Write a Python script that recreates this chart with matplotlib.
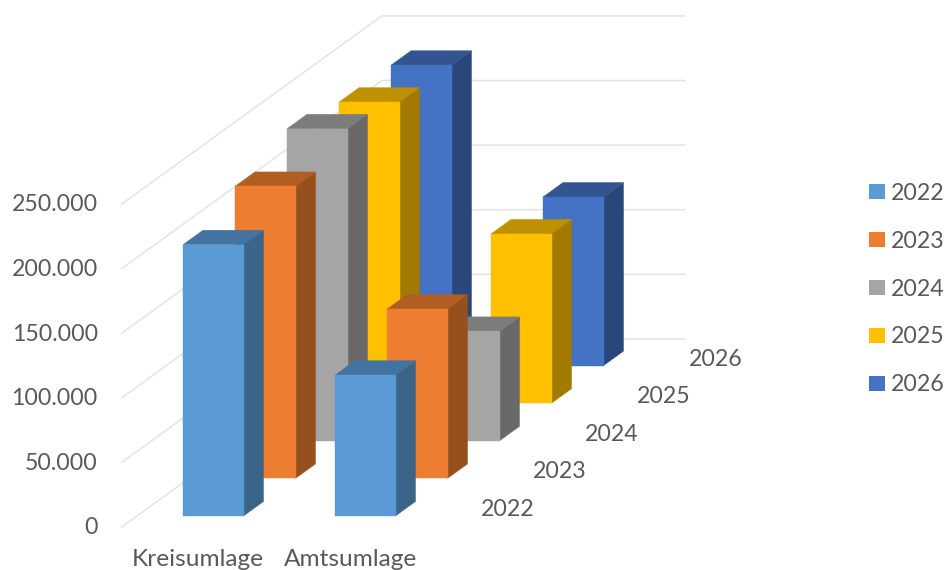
import matplotlib
matplotlib.use('Agg')
import matplotlib.pyplot as plt
from matplotlib.patches import Patch, Polygon

categories = ['Kreisumlage', 'Amtsumlage']
years = ['2022', '2023', '2024', '2025', '2026']
kreisumlage = [210000, 226000, 241500, 233000, 232500]
amtsumlage = [109000, 131000, 84700, 131000, 130500]
value_ticks = [0, 50000, 100000, 150000, 200000, 250000]
value_labels = ['0', '50.000', '100.000', '150.000', '200.000', '250.000']

front_colors = ['#5B9BD5', '#ED7D31', '#A5A5A5', '#FFC000', '#4472C4']
side_colors = ['#3A6488', '#96501D', '#696969', '#A37A00', '#2A477C']
top_colors = ['#4373A1', '#B25D22', '#7C7C7C', '#BF9000', '#325490']

GREY = '#595959'
FONT = 'Lato'
SIZE = 16.7

# one category is 152 px wide, 50.000 is 64.6 px high
PX_X = 1 / 152
PX_Y = 50000 / 64.6
# shift of the oblique view for one step along the depth axis
STEP_X = 52 * PX_X
STEP_Y = 37.6 * PX_Y
BAR_W = 60.5 * PX_X
BAR_D = 0.385
FLOOR_FRONT = -0.29
FLOOR_BACK = 4.71
FLOOR_LEFT = -0.303
WALL_RIGHT = 1.69


def project(cat, depth, value):
    return cat + depth * STEP_X, value + depth * STEP_Y


def draw_bar(ax, cat, depth, value, i, z):
    l, r = cat, cat + BAR_W
    d0, d1 = depth, depth + BAR_D
    front = [project(l, d0, 0), project(r, d0, 0), project(r, d0, value), project(l, d0, value)]
    side = [project(r, d0, 0), project(r, d1, 0), project(r, d1, value), project(r, d0, value)]
    top = [project(l, d0, value), project(r, d0, value), project(r, d1, value), project(l, d1, value)]
    for pts, col in [(side, side_colors[i]), (top, top_colors[i]), (front, front_colors[i])]:
        ax.add_patch(Polygon(pts, closed=True, facecolor=col, edgecolor=col, linewidth=0.3, zorder=z))


fig = plt.figure(figsize=(9.47, 5.70), dpi=100)
ax = fig.add_axes([0, 0, 1, 1])
ax.set_xlim(-183 * PX_X, (947 - 183) * PX_X)
ax.set_ylim(-(570 - 516) * PX_Y, 516 * PX_Y)
ax.axis('off')

# side wall and back wall grid lines
for v, lab in zip(value_ticks, value_labels):
    p0 = project(FLOOR_LEFT, FLOOR_FRONT, v)
    p1 = project(FLOOR_LEFT, FLOOR_BACK, v)
    p2 = project(WALL_RIGHT, FLOOR_BACK, v)
    ax.plot([p0[0], p1[0], p2[0]], [p0[1], p1[1], p2[1]], color='#E4E4E4', lw=1.1, zorder=1)
    ax.text(p0[0] - 24 * PX_X, v + FLOOR_FRONT * STEP_Y - 1 * PX_Y, lab, ha='right', va='center',
            color=GREY, fontsize=SIZE, family=FONT)

# back rows first so the nearer bars cover them
z = 2
for i in range(len(years) - 1, -1, -1):
    for c, values in enumerate([kreisumlage, amtsumlage]):
        draw_bar(ax, c, i, values[i], i, z)
        z += 1

for c, name in enumerate(categories):
    x, y = project(c + BAR_W / 2, 0, 0)
    ax.text(x - 15 * PX_X, y - 44 * PX_Y, name, ha='center', va='center', color=GREY,
            fontsize=17.6, family=FONT)

for i, year in enumerate(years):
    x, y = project(1 + BAR_W, i, 0)
    ax.text(x + 112.5 * PX_X, y + 6.5 * PX_Y, year, ha='center', va='center', color=GREY,
            fontsize=SIZE, family=FONT)

handles = [Patch(facecolor=c, edgecolor='none', label=y) for c, y in zip(front_colors, years)]
fig.legend(handles=handles, loc='center left', bbox_to_anchor=(869 / 947, 1 - 289 / 570),
           frameon=False, labelcolor=GREY, prop={'family': FONT, 'size': SIZE},
           handlelength=0.7, handleheight=0.62, handletextpad=0.26, labelspacing=1.16,
           borderpad=0, borderaxespad=0)

fig.savefig('out.png', dpi=100)
